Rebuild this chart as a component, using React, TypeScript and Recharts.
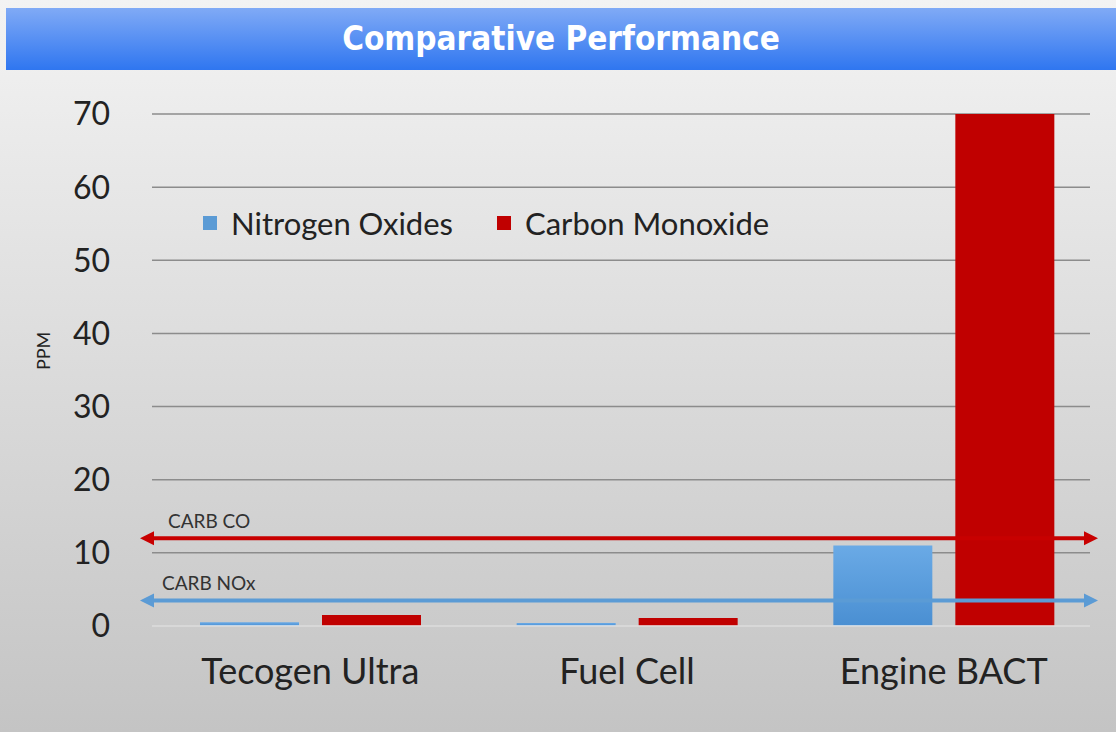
import { BarChart, Bar, XAxis, YAxis, CartesianGrid, ReferenceLine, Legend } from 'recharts';

const categories = ['Tecogen Ultra', 'Fuel Cell', 'Engine BACT'];
const nitrogenOxides = [0.5, 0.4, 11];
const carbonMonoxide = [1.5, 1.1, 70];
const yTicks = [0, 10, 20, 30, 40, 50, 60, 70];
const carbCo = 12;
const carbNox = 3.5;

const seriesNames = ['Nitrogen Oxides', 'Carbon Monoxide'];
const seriesColors = ['#5b9bd5', '#c00000'];

const data = categories.map((name, i) => ({
    name,
    nox: nitrogenOxides[i],
    co: carbonMonoxide[i],
}));

const FONT = 'Lato, "Open Sans", sans-serif';

// line with arrow heads at both ends, a bit wider than the plot like the original
const arrowLine = (color: string, text: string, labelDx: number) => (props: any) => {
    const { x1, y1, x2 } = props;
    const left = x1 - 12;
    const right = x2 - 4;
    const y = y1;
    return (
        <g>
            <line x1={left + 8} y1={y} x2={right - 8} y2={y} stroke={color} strokeWidth={4} />
            <polygon points={`${left},${y} ${left + 14},${y - 7} ${left + 14},${y + 7}`} fill={color} />
            <polygon points={`${right},${y} ${right - 14},${y - 7} ${right - 14},${y + 7}`} fill={color} />
            <text x={x1 + labelDx} y={y - 10} fontSize={19} fill="#333" fontFamily={FONT}>{text}</text>
        </g>
    );
};

const gridLine = (props: any) => {
    const { x1, x2, y1, y2, index } = props;
    return <line key={`g${index}`} x1={x1} x2={x2 - 12} y1={y1} y2={y2} stroke="#8c8c8c" strokeWidth={1.5} />;
};

const zeroLine = (props: any) => (
    <line x1={props.x1} x2={props.x2 - 12} y1={props.y1} y2={props.y2} stroke="#ececec" strokeWidth={1.5} />
);

const LegendBox = () => (
    <div style={{ display: 'flex', gap: 44, fontFamily: FONT, fontSize: 31, color: '#222' }}>
        {seriesNames.map((n, i) => (
            <div key={n} style={{ display: 'flex', alignItems: 'center' }}>
                <span style={{ width: 14, height: 14, background: seriesColors[i], marginRight: 14, display: 'inline-block' }} />
                {n}
            </div>
        ))}
    </div>
);

export default function App() {
    return (
        <div style={{ position: 'absolute', left: 0, top: 0, width: 1116, height: 732, background: 'linear-gradient(#f3f3f3, #c4c4c4)', overflow: 'hidden' }}>
            <div style={{
                position: 'absolute', left: 6, top: 8, width: 1110, height: 62,
                background: 'linear-gradient(#80aaf6, #2f76f0)',
                color: '#fff', fontFamily: '"DejaVu Sans Condensed", "DejaVu Sans", sans-serif', fontWeight: 'bold',
                fontSize: 33, lineHeight: '62px', textAlign: 'center',
            }}>
                Comparative Performance
            </div>
            <div style={{ position: 'absolute', left: 0, top: 70 }}>
                <BarChart width={1116} height={662} data={data} margin={{ top: 6, right: 14, left: 0, bottom: 0 }}
                    barSize={99} barGap={23}>
                    <defs>
                        <linearGradient id="noxGrad" x1="0" y1="0" x2="0" y2="1">
                            <stop offset="0%" stopColor="#6aaae6" />
                            <stop offset="100%" stopColor="#4a8fd2" />
                        </linearGradient>
                    </defs>
                    <CartesianGrid vertical={false} horizontal={gridLine} />
                    <XAxis dataKey="name" axisLine={false} tickLine={false} tickSize={0} tickMargin={32} height={106}
                        tick={{ fontSize: 36, fill: '#222', fontFamily: FONT }} />
                    <YAxis domain={[0, 70]} ticks={yTicks} axisLine={false} tickLine={false} tickSize={0} tickMargin={42} width={152}
                        tick={{ fontSize: 32, fill: '#222', fontFamily: FONT }}
                        label={{ value: 'PPM', angle: -90, position: 'insideLeft', offset: 44, style: { fontSize: 18, fill: '#222', fontFamily: FONT } }} />
                    <Legend verticalAlign="top" align="left" content={<LegendBox />}
                        wrapperStyle={{ position: 'absolute', top: 134, left: 203, width: 'auto' }} />
                    <ReferenceLine y={0} shape={zeroLine} />
                    <Bar dataKey="nox" name={seriesNames[0]} fill="url(#noxGrad)" isAnimationActive={false} />
                    <Bar dataKey="co" name={seriesNames[1]} fill={seriesColors[1]} isAnimationActive={false} />
                    <ReferenceLine y={carbCo} shape={arrowLine('#c80000', 'CARB CO', 16)} />
                    <ReferenceLine y={carbNox} shape={arrowLine('#5b9bd5', 'CARB NOx', 10)} />
                </BarChart>
            </div>
        </div>
    );
}
